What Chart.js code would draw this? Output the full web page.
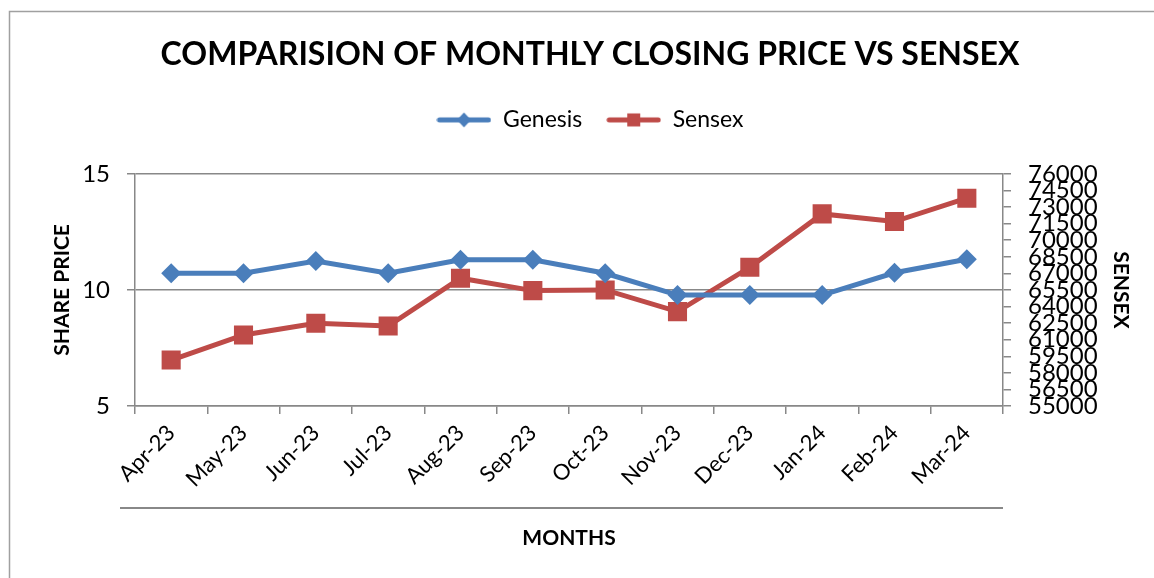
<!DOCTYPE html>
<html>
<head>
<meta charset="utf-8">
<title>Genesis vs Sensex</title>
<script src="https://cdn.jsdelivr.net/npm/chart.js@4.4.1/dist/chart.umd.min.js"></script>
<style>
  html, body { margin: 0; padding: 0; background: #fff; }
  #wrap { width: 1154px; height: 578px; }
</style>
</head>
<body>
<div id="wrap"><canvas id="myChart" width="1154" height="578"></canvas></div>
<script>
// datos
const months = ["Apr-23", "May-23", "Jun-23", "Jul-23", "Aug-23", "Sep-23",
                "Oct-23", "Nov-23", "Dec-23", "Jan-24", "Feb-24", "Mar-24"];
const genesisPrice = [10.72, 10.72, 11.25, 10.72, 11.3, 11.3, 10.72, 9.78, 9.78, 9.78, 10.74, 11.32];
const sensexClose = [59160, 61430, 62480, 62240, 66560, 65440, 65500, 63540, 67550, 72380, 71690, 73800];
const priceTicks = [5, 10, 15];
const sensexTicks = [55000, 56500, 58000, 59500, 61000, 62500, 64000, 65500,
                     67000, 68500, 70000, 71500, 73000, 74500, 76000];

const FONT = "Lato, 'Open Sans', sans-serif";
const AXIS_GRAY = "#888888";

// icono de la leyenda: linea con el marcador en el centro
function legendIcon(color, style) {
    const c = document.createElement("canvas");
    c.width = 55;
    c.height = 20;
    const g = c.getContext("2d");
    g.strokeStyle = color;
    g.fillStyle = color;
    g.lineWidth = 5;
    g.lineCap = "round";
    g.beginPath();
    g.moveTo(3, 10);
    g.lineTo(52, 10);
    g.stroke();
    g.beginPath();
    if (style === "rectRot") {
        g.moveTo(27.5, 2.5);
        g.lineTo(34.5, 10);
        g.lineTo(27.5, 17.5);
        g.lineTo(20.5, 10);
        g.closePath();
    } else {
        g.rect(21, 3.5, 13, 13);
    }
    g.fill();
    return c;
}

// marco del grafico y linea bajo las etiquetas del eje x
const framePlugin = {
    id: "frame",
    beforeDraw(chart) {
        const ctx = chart.ctx;
        const area = chart.chartArea;
        ctx.save();
        ctx.strokeStyle = "#a0a0a0";
        ctx.lineWidth = 1.5;
        ctx.beginPath();
        ctx.moveTo(9.5, chart.height);
        ctx.lineTo(9.5, 11.5);
        ctx.lineTo(chart.width, 11.5);
        ctx.stroke();
        ctx.strokeStyle = AXIS_GRAY;
        ctx.lineWidth = 2;
        ctx.beginPath();
        ctx.moveTo(area.left - 15, 508);
        ctx.lineTo(area.right, 508);
        ctx.stroke();
        ctx.restore();
    }
};

const ctx = document.getElementById("myChart").getContext("2d");
const myChart = new Chart(ctx, {
    type: "line",
    data: {
        labels: months,
        datasets: [
            {
                label: "Genesis",
                data: genesisPrice,
                yAxisID: "yPrice",
                borderColor: "#4a7ebb",
                backgroundColor: "#4a7ebb",
                borderWidth: 5,
                pointStyle: "rectRot",
                pointRadius: 10,
                pointHoverRadius: 10,
                pointBorderWidth: 0,
                tension: 0
            },
            {
                label: "Sensex",
                data: sensexClose,
                yAxisID: "ySensex",
                borderColor: "#be4b48",
                backgroundColor: "#be4b48",
                borderWidth: 5,
                pointStyle: "rect",
                pointRadius: 13.5,
                pointHoverRadius: 13.5,
                pointBorderWidth: 0,
                tension: 0
            }
        ]
    },
    options: {
        responsive: false,
        animation: false,
        layout: { padding: { left: 26, right: 0, top: 0, bottom: 0 } },
        plugins: {
            title: {
                display: true,
                text: "COMPARISION OF MONTHLY CLOSING PRICE VS SENSEX",
                color: "#000",
                font: { family: FONT, size: 32, weight: "bold" },
                padding: { top: 35, bottom: 11 }
            },
            // espacio vacio entre la leyenda y el area del grafico
            subtitle: {
                display: true,
                text: "",
                weight: 500,
                padding: 0,
                font: { size: 10, lineHeight: "32.5px" }
            },
            legend: {
                position: "top",
                labels: {
                    usePointStyle: true,
                    pointStyleWidth: 55,
                    color: "#000",
                    padding: 24,
                    font: { family: FONT, size: 23 },
                    generateLabels: chart => chart.data.datasets.map((ds, i) => ({
                        text: ds.label,
                        pointStyle: legendIcon(ds.borderColor, ds.pointStyle),
                        fillStyle: ds.borderColor,
                        strokeStyle: ds.borderColor,
                        lineWidth: 0,
                        hidden: false,
                        fontColor: "#000",
                        datasetIndex: i
                    }))
                }
            },
            tooltip: { enabled: false }
        },
        scales: {
            x: {
                offset: true,
                grid: { offset: true, drawOnChartArea: false, drawTicks: true, tickLength: 8, color: AXIS_GRAY, lineWidth: 1.5 },
                border: { color: AXIS_GRAY, width: 1.5 },
                ticks: { color: "#000", font: { family: FONT, size: 22 }, minRotation: 45, maxRotation: 45, padding: 6, autoSkip: false },
                title: { display: true, text: "MONTHS", color: "#000", font: { family: FONT, size: 21, weight: "bold" }, padding: { top: 0, bottom: 27.4 } },
                afterFit: s => { s.height = 172; }
            },
            yPrice: {
                position: "left",
                min: 5,
                max: 15,
                afterBuildTicks: s => { s.ticks = priceTicks.map(v => ({ value: v })); },
                grid: { color: AXIS_GRAY, lineWidth: 1.5, tickLength: 8 },
                border: { color: AXIS_GRAY, width: 1.5 },
                ticks: { color: "#000", font: { family: FONT, size: 24 }, padding: 17, autoSkip: false },
                title: { display: true, text: "SHARE PRICE", color: "#000", font: { family: FONT, size: 21, weight: "bold" }, padding: { top: 23.4, bottom: 0 } },
                afterFit: s => { s.width = 109; }
            },
            ySensex: {
                position: "right",
                min: 55000,
                max: 76000,
                afterBuildTicks: s => { s.ticks = sensexTicks.map(v => ({ value: v })); },
                grid: { drawOnChartArea: false, color: AXIS_GRAY, lineWidth: 1.5, tickLength: 8 },
                border: { color: AXIS_GRAY, width: 1.5 },
                ticks: { color: "#000", font: { family: FONT, size: 24 }, padding: 17, autoSkip: false, callback: v => String(v) },
                title: { display: true, text: "SENSEX", color: "#000", font: { family: FONT, size: 21, weight: "bold" }, padding: { top: 20.4, bottom: 0 } },
                afterFit: s => { s.width = 151; }
            }
        }
    },
    plugins: [framePlugin]
});
</script>
</body>
</html>
